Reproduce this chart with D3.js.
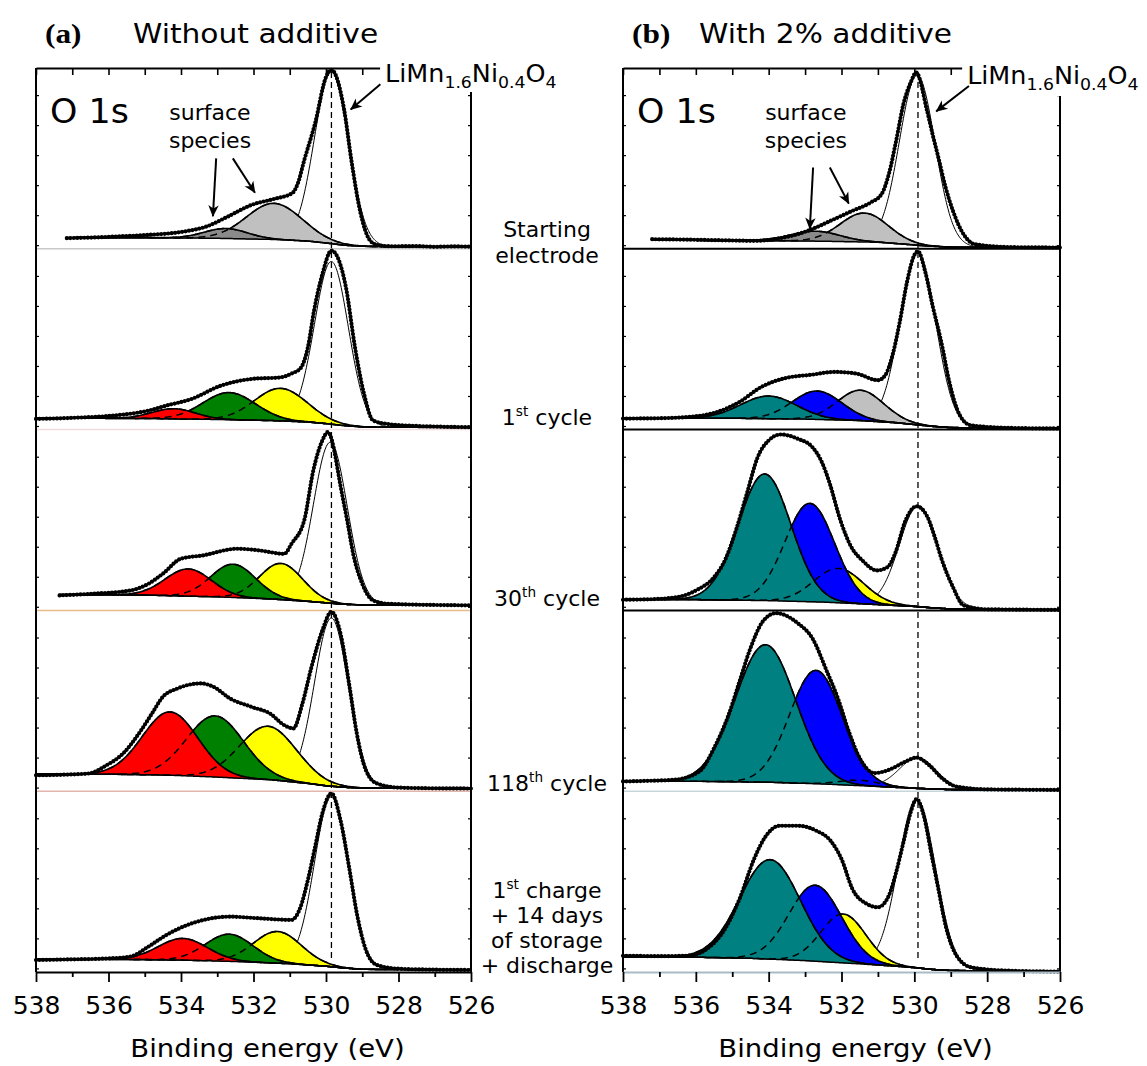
<!DOCTYPE html>
<html>
<head>
<meta charset="utf-8">
<script src="https://cdn.jsdelivr.net/npm/d3@7"></script>
<style>
  body { margin: 0; background: #fff; }
  text { font-family: "DejaVu Sans", Verdana, sans-serif; fill: #000; }
</style>
</head>
<body>
<svg id="chart" width="1147" height="1066"></svg>
<script>
// O 1s spectra, intensities in % of each row's height
var energyTicks = [538, 537, 536, 535, 534, 533, 532, 531, 530, 529, 528, 527, 526];
var rowLabels = [["Starting", "electrode"], ["1^{st} cycle"], ["30^{th} cycle"], ["118^{th} cycle"],
                 ["1^{st} charge", "+ 14 days", "of storage", "+ discharge"]];

// measured points [binding energy, intensity]
var dataA = [
  [[537.15,5.9],[536.5,6.2],[535.8,6.8],[534.9,7.7],[533.9,9.6],[533.3,12.3],[532.7,17.9],[532.05,24.3],[531.45,27.5],[530.93,30.8],[530.78,36],[530.6,49],[530.3,69.5],[530.0,95],[529.85,99],[529.5,77],[529.3,49],[529.05,20],[528.8,5],[528.6,2.2],[528.2,1.4],[527.5,1.5],[527,1.1],[526.5,1.3],[526,1.2]],
  [[538,5.9],[537,6.5],[535.9,7.7],[534.9,10.5],[534.4,13.3],[533.7,17],[532.9,24.3],[532.05,28],[531.25,28.9],[530.95,31],[530.7,34],[530.5,45.5],[530.33,65.8],[530.1,86],[529.85,99],[529.45,78.7],[529.2,45.5],[528.95,19.7],[528.7,5],[528.3,3.1],[527.5,2],[526.8,1.6],[526,1.3]],
  [[537.35,8.3],[536.45,9.2],[535.4,11],[534.9,14.7],[534.5,20.3],[534.0,28.6],[533.4,30.4],[532.45,34.1],[531.85,33.2],[531.15,31.3],[530.95,36.9],[530.6,49.8],[530.35,77.4],[530.1,94],[529.95,98.6],[529.55,63.6],[529.4,48],[529.25,31.3],[529.0,14.7],[528.7,5.5],[528.3,3.7],[527,3],[526,2.8]],
  [[538,8.8],[537,9.3],[536.55,9.8],[536.05,14.4],[535.6,20.8],[535.1,33.7],[534.8,43],[534.5,52.2],[534.1,56.8],[533.45,59.6],[533.1,57.7],[532.65,51.3],[532.05,46.6],[531.55,43],[531.15,36.5],[530.9,34.7],[530.65,48.5],[530.4,68.7],[530.1,89],[529.85,99.2],[529.6,87.2],[529.35,57.7],[529.15,31.9],[528.9,11.6],[528.6,4.3],[528,2],[527,1.6],[526,1.5]],
  [[538,6.6],[537,7],[536,7.5],[535.4,8.5],[534.9,14],[534.4,20.5],[533.7,26.9],[532.65,30.6],[531.85,29.7],[530.95,28.8],[530.7,36.1],[530.5,50.9],[530.3,69.3],[530.1,87.8],[529.85,98.8],[529.6,84],[529.35,56.4],[529.15,32.5],[528.9,12.2],[528.6,3.9],[528,1.8],[527,1.3],[526,1.1]]
];
var dataB = [
  [[537.2,5.3],[536,5],[535,4.6],[534.4,4.4],[533.7,5.8],[533.2,8.1],[532.7,11.8],[532.2,16.4],[531.7,21],[531.2,25.6],[530.9,30.2],[530.7,41.3],[530.5,59.7],[530.3,80],[530.1,92],[529.95,97.5],[529.65,76.3],[529.5,63.4],[529.34,50.5],[529.14,33.9],[528.94,21],[528.65,8.1],[528.35,2.6],[527.5,1],[526.8,0.8],[526,0.7]],
  [[538,6.1],[537,6.3],[536.2,7],[535.4,9.8],[534.8,15.3],[534.2,23.6],[533.6,28.2],[532.8,30.4],[532.2,31.9],[531.6,31],[531.0,27.3],[530.8,30],[530.6,41.1],[530.4,59.6],[530.2,81.7],[530.0,96.5],[529.9,98.6],[529.7,87.2],[529.5,68.7],[529.24,46.6],[529.04,26.4],[528.75,7.9],[528.45,2.4],[527.5,1],[526,0.6]],
  [[538,5.9],[537.2,6.2],[536.5,7.4],[536.0,11],[535.5,18.4],[535.2,27.7],[534.9,44.2],[534.6,64.5],[534.3,84.8],[534.0,94],[533.67,97.3],[533.2,94.9],[532.8,90.3],[532.52,81.1],[532.32,70],[532.03,49.8],[531.73,35],[531.43,27.7],[531.03,22.1],[530.73,24],[530.53,31.4],[530.24,49.8],[529.94,57.6],[529.64,51.7],[529.44,40.6],[529.24,27.7],[528.94,12.9],[528.65,2.8],[528,0.6],[526,0.3]],
  [[538,5.4],[537.2,5.8],[536.6,6.3],[535.9,10.9],[535.5,23.8],[535.1,42.2],[534.8,60.7],[534.5,79.1],[534.16,93.9],[533.8,98.5],[533.2,92.9],[532.8,84.6],[532.4,66.2],[532.1,51.4],[531.8,33],[531.5,18.3],[531.1,10],[530.7,11.8],[530.24,16.4],[529.94,18.6],[529.6,14.5],[529.24,7.2],[528.85,2.6],[528,1],[527,0.8],[526,0.7]],
  [[538,9],[537,8.8],[536.2,9],[535.7,12.7],[535.2,23.8],[534.8,40.4],[534.4,62.5],[534.1,74.5],[533.7,80.9],[533.2,80.9],[532.7,78.2],[532.3,72.6],[532.0,62.5],[531.7,45.9],[531.3,37.6],[531.0,35.8],[530.7,42.2],[530.5,55.1],[530.3,71.7],[530.1,88.3],[529.94,95.7],[529.74,86.4],[529.54,66.2],[529.34,45.9],[529.14,25.6],[528.84,9],[528.44,2.6],[527.5,0.8],[526,0.2]]
];

// Shirley-type background [binding energy, intensity]
var backgroundA = [
  [[537.15,6.2],[535,6.2],[533,5.8],[531.5,5.2],[530.5,4.3],[530,3.2],[529.5,2],[529,1.4],[528.5,1.2],[526,1.1]],
  [[538,6.3],[535,6.2],[533,5.6],[531.5,5],[530.5,4.2],[530,3.3],[529.5,2.2],[529,1.5],[528.5,1.3],[526,1.2]],
  [[537.35,8.8],[535,8.5],[533,7.5],[531.5,6.3],[530.5,5],[530,4.2],[529.5,3.4],[529,3],[526,2.8]],
  [[538,9.5],[536,9.4],[534.5,9],[533,7.8],[531.5,6.3],[530.5,4.3],[530,3],[529.5,2.2],[529,1.7],[526,1.5]],
  [[538,7],[535.5,7],[534,6.6],[532.5,5.8],[531,4.6],[530,3.2],[529.5,2.2],[529,1.5],[526,1.1]]
];
var backgroundB = [
  [[537.2,4.8],[534,4.5],[532.5,4.2],[531,3.6],[530.3,2.6],[529.7,1.6],[529,0.9],[526,0.7]],
  [[538,6.4],[535,6.3],[533,5.8],[531.5,5],[530.5,3.8],[530,2.8],[529.5,1.8],[529,1.1],[526,0.6]],
  [[538,6],[536,6],[534,5.4],[532.5,4.6],[531,3.2],[530,2.2],[529.5,1.4],[529,0.8],[526,0.3]],
  [[538,5.5],[536,5.5],[534,5],[532.5,4],[531,2.6],[530,1.6],[529,0.9],[526,0.7]],
  [[538,8.3],[536,8.2],[534.5,7.6],[533,6.3],[531.5,4.5],[530.5,3.2],[530,2.4],[529.5,1.4],[529,0.8],[526,0.3]]
];

// fitted components [species, centre (eV), FWHM (eV), height], bottom layer first
var peaksA = [
  [["main",529.85,1.1,95],["gray",531.43,1.8,20],["dgray",532.76,1.4,5.5]],
  [["main",529.85,1.1,90],["yellow",531.25,1.7,18],["green",532.67,1.7,15],["red",534.2,1.4,5.6]],
  [["main",529.88,1.1,89],["yellow",531.24,1.4,20],["green",532.56,1.45,18.4],["red",533.8,1.5,15]],
  [["main",529.85,1.1,93],["yellow",531.6,1.85,29.5],["green",533.06,1.85,33.8],["red",534.3,1.8,35]],
  [["main",529.85,1.1,94],["yellow",531.34,1.55,17.5],["green",532.67,1.55,15],["red",533.95,1.6,12]]
];
var peaksB = [
  [["main",529.92,1.15,94],["gray",531.38,1.55,16],["dgray",532.72,1.6,5.5]],
  [["main",529.9,1.15,95],["gray",531.48,1.5,16.8],["blue",532.67,1.6,15.7],["teal",534.0,1.8,12.5]],
  [["main",529.88,1.25,56],["yellow",532.08,1.6,19],["blue",532.87,1.6,54.4],["teal",534.11,1.7,70]],
  [["main",529.9,1.2,17],["yellow",531.5,1.3,3],["blue",532.7,1.7,62.7],["teal",534.09,1.95,76]],
  [["main",529.93,1.2,93.5],["yellow",531.95,1.45,27],["blue",532.72,1.7,42],["teal",533.96,1.95,55]]
];
var mainPosition = [529.85, 529.9];

var peakColors = {main: "#ffffff", gray: "#c0c0c0", dgray: "#8a8a8a", yellow: "#ffff00",
                  green: "#008000", red: "#ff0000", blue: "#0000ff", teal: "#008080"};

var svg = d3.select("#chart");
var rowTops = d3.range(6).map(function(i) { return 68 + i * 180.8; });
var stretch = 1.12;   // lettering of the original is a little wide

var defs = svg.append("defs");
defs.append("marker")
    .attr("id", "arrow")
    .attr("viewBox", "0 0 10 10")
    .attr("refX", 9).attr("refY", 5)
    .attr("markerWidth", 13).attr("markerHeight", 13)
    .attr("markerUnits", "userSpaceOnUse")
    .attr("orient", "auto")
  .append("path")
    .attr("d", "M0.5,1 L9.5,5 L0.5,9 L3,5 Z")
    .attr("fill", "#000");

function wideText(sel, x, y, size, sx) {
  return sel.append("text")
      .attr("transform", "translate(" + x + "," + y + ") scale(" + sx + ",1)")
      .attr("font-size", size);
}

function richText(sel, str, size) {
  var parts = str.split(/([_^]\{[^}]*\})/);
  var shift = 0;
  parts.forEach(function(p) {
    if (!p) return;
    var t = sel.append("tspan");
    var target = 0, fs = size;
    if (p[0] === "^") { target = -size * 0.4; fs = size * 0.62; p = p.slice(2, -1); }
    else if (p[0] === "_") { target = size * 0.25; fs = size * 0.68; p = p.slice(2, -1); }
    t.attr("dy", target - shift).attr("font-size", fs).text(p);
    shift = target;
  });
}

function gauss(pk) {
  return function(e) { return pk[3] * Math.exp(-4 * Math.LN2 * Math.pow((e - pk[1]) / pk[2], 2)); };
}

function drawPanel(p) {
  var x = d3.scaleLinear().domain([538, 526]).range([p.x0, p.x1]);
  var g = svg.append("g");
  var bottom = rowTops[5];

  // row separators
  p.sepColors.forEach(function(c, i) {
    g.append("line")
        .attr("x1", p.x0).attr("x2", p.x1)
        .attr("y1", rowTops[i + 1]).attr("y2", rowTops[i + 1])
        .attr("stroke", c).attr("stroke-width", c === "#000" ? 2 : 1.5);
  });

  p.data.forEach(function(data, i) {
    var y = d3.scaleLinear().domain([0, 100]).range([rowTops[i + 1], rowTops[i]]);
    var bgPts = p.bg[i];
    var bg = d3.scaleLinear().domain(bgPts.map(function(d) { return d[0]; }))
        .range(bgPts.map(function(d) { return d[1]; }));
    var grid = d3.range(data[0][0], 525.99, -0.02);
    var row = g.append("g");

    // small y ticks on both spines
    var yTicks = d3.range(2, 100, 16.6);
    row.append("g").attr("transform", "translate(" + p.x0 + ",0)")
        .call(d3.axisLeft(y).tickValues(yTicks).tickSize(-3).tickFormat(""))
        .call(function(a) { a.select(".domain").remove(); a.selectAll("line").attr("stroke-width", 1.2); });
    row.append("g").attr("transform", "translate(" + p.x1 + ",0)")
        .call(d3.axisRight(y).tickValues(yTicks).tickSize(-3).tickFormat(""))
        .call(function(a) { a.select(".domain").remove(); a.selectAll("line").attr("stroke-width", 1.2); });

    var comps = p.peaks[i].map(function(pk) {
      var f = gauss(pk);
      return {pk: pk, f: f, es: grid.filter(function(e) { return Math.abs(e - pk[1]) < 3 * pk[2]; })};
    });

    comps.forEach(function(c) {
      var area = d3.area()
          .x(function(e) { return x(e); })
          .y0(function(e) { return y(bg(e)); })
          .y1(function(e) { return y(bg(e) + c.f(e)); });
      var line = d3.line()
          .x(function(e) { return x(e); })
          .y(function(e) { return y(bg(e) + c.f(e)); });
      row.append("path").datum(c.es).attr("d", area).attr("fill", peakColors[c.pk[0]]);
      row.append("path").datum(c.es).attr("d", line)
          .attr("fill", "none").attr("stroke", "#000")
          .attr("stroke-width", c.pk[0] === "main" ? 1 : 1.6);
    });
    // hidden parts of overlapping components shown dashed
    comps.forEach(function(c) {
      if (c.pk[0] === "main") return;
      var line = d3.line()
          .x(function(e) { return x(e); })
          .y(function(e) { return y(bg(e) + c.f(e)); });
      row.append("path").datum(c.es).attr("d", line)
          .attr("fill", "none").attr("stroke", "#000")
          .attr("stroke-width", 1.5).attr("stroke-dasharray", "7,5");
    });

    // background
    row.append("path").datum(grid)
        .attr("d", d3.line().x(function(e) { return x(e); }).y(function(e) { return y(bg(e)); }))
        .attr("fill", "none").attr("stroke", "#000").attr("stroke-width", 1.5);

    // measured data
    var dataLine = d3.line()
        .x(function(d) { return x(d[0]); })
        .y(function(d) { return y(d[1]); })
        .curve(d3.curveMonotoneX);
    row.append("path").datum(data).attr("d", dataLine)
        .attr("fill", "none").attr("stroke", "#000").attr("stroke-width", 2);
    row.append("path").datum(data).attr("d", dataLine)
        .attr("fill", "none").attr("stroke", "#000").attr("stroke-width", 4.2)
        .attr("stroke-linecap", "round").attr("stroke-dasharray", "0,3.5");
  });

  // reference position of the spinel lattice oxygen
  g.append("line")
      .attr("x1", x(p.mainPos)).attr("x2", x(p.mainPos))
      .attr("y1", 72).attr("y2", 958)
      .attr("stroke", "#000").attr("stroke-width", 1.3).attr("stroke-dasharray", "6,4");

  // frame and axes
  g.append("line").attr("x1", p.x0).attr("x2", p.x0).attr("y1", rowTops[0]).attr("y2", bottom)
      .attr("stroke", "#000").attr("stroke-width", 2);
  g.append("line").attr("x1", p.x1).attr("x2", p.x1).attr("y1", rowTops[0]).attr("y2", bottom)
      .attr("stroke", "#000").attr("stroke-width", 2);

  var top = g.append("g").attr("transform", "translate(0," + rowTops[0] + ")")
      .call(d3.axisTop(x).tickValues(energyTicks).tickSize(-7).tickSizeOuter(0).tickFormat(""));
  top.select(".domain").attr("stroke-width", 2);
  top.selectAll(".tick line").attr("stroke-width", 1.6);

  var bx = g.append("g").attr("transform", "translate(0," + bottom + ")")
      .call(d3.axisBottom(x).tickValues(energyTicks.filter(function(d) { return d % 2 === 0; }))
        .tickSize(10).tickSizeOuter(0).tickPadding(14).tickFormat(d3.format("d")));
  bx.select(".domain").attr("stroke", p.axisColor).attr("stroke-width", 2);
  bx.selectAll(".tick line").attr("stroke-width", 1.8);
  bx.selectAll("text").attr("font-size", 25).style("font-family", "DejaVu Sans, Verdana, sans-serif");
  var mx = g.append("g").attr("transform", "translate(0," + bottom + ")")
      .call(d3.axisBottom(x).tickValues(energyTicks.filter(function(d) { return d % 2 !== 0; }))
        .tickSize(5).tickFormat(""));
  mx.select(".domain").remove();
  mx.selectAll(".tick line").attr("stroke-width", 1.8);

  wideText(g, (p.x0 + p.x1) / 2 + 14, 1057, 25, 1.1)
      .attr("text-anchor", "middle").text("Binding energy (eV)");

  // headers
  wideText(g, p.x0 + 9, 43, 28, 1.12)
      .style("font-family", "Liberation Serif, Times New Roman, serif")
      .attr("font-weight", "bold").text(p.tag);
  wideText(g, p.titleX, 43, 26.5, stretch).text(p.title);
  wideText(g, p.x0 + 14, 123, 33.5, 1.04).text("O 1s");

  // annotations
  var y0 = d3.scaleLinear().domain([0, 100]).range([rowTops[1], rowTops[0]]);
  wideText(g, x(p.surfX), 120, 22, 1).attr("text-anchor", "middle").text("surface");
  wideText(g, x(p.surfX), 148, 22, 1).attr("text-anchor", "middle").text("species");
  p.arrows.forEach(function(a) {
    g.append("line")
        .attr("x1", x(a[0])).attr("y1", y0(a[1]))
        .attr("x2", x(a[2])).attr("y2", y0(a[3]))
        .attr("stroke", "#000").attr("stroke-width", 2).attr("marker-end", "url(#arrow)");
  });

  g.append("rect").attr("x", x(p.formulaX) - 5).attr("y", 50).attr("width", 185).attr("height", p.boxH)
      .attr("fill", "#fff");
  richText(wideText(g, x(p.formulaX), p.formulaY, 24, 1.06), "LiMn_{1.6}Ni_{0.4}O_{4}", 24);
  var fa = p.formulaArrow;
  g.append("line")
      .attr("x1", x(fa[0])).attr("y1", y0(fa[1]))
      .attr("x2", x(fa[2])).attr("y2", y0(fa[3]))
      .attr("stroke", "#000").attr("stroke-width", 2).attr("marker-end", "url(#arrow)");
}

drawPanel({
  x0: 36, x1: 471, data: dataA, bg: backgroundA, peaks: peaksA, mainPos: mainPosition[0],
  sepColors: ["#c8c8c8", "#f3dcdf", "#e6bd88", "#e2b6ac"], axisColor: "#000",
  tag: "(a)", title: "Without additive", titleX: 133, surfX: 533.2,
  arrows: [[533.03, 50, 533.12, 18], [532.57, 50, 531.96, 31]],
  formulaX: 528.37, formulaY: 82, boxH: 42, formulaArrow: [528.5, 91, 529.32, 77]
});
drawPanel({
  x0: 623, x1: 1060, data: dataB, bg: backgroundB, peaks: peaksB, mainPos: mainPosition[1],
  sepColors: ["#000", "#000", "#000", "#c9d5dd"], axisColor: "#a9bcc6",
  tag: "(b)", title: "With 2% additive", titleX: 699, surfX: 532.98,
  arrows: [[532.78, 45, 532.87, 11], [532.32, 45, 531.8, 25]],
  formulaX: 528.55, formulaY: 84, boxH: 46, formulaArrow: [528.5, 90, 529.4, 76]
});

// row captions between the panels
rowLabels.forEach(function(lines, i) {
  var base = [237, 425, 606, 791, 898][i];
  var step = i === 0 ? 26 : 25;
  lines.forEach(function(s, j) {
    richText(wideText(svg, 547, base + j * step, 22, 1).attr("text-anchor", "middle"), s, 22);
  });
});
</script>
</body>
</html>
